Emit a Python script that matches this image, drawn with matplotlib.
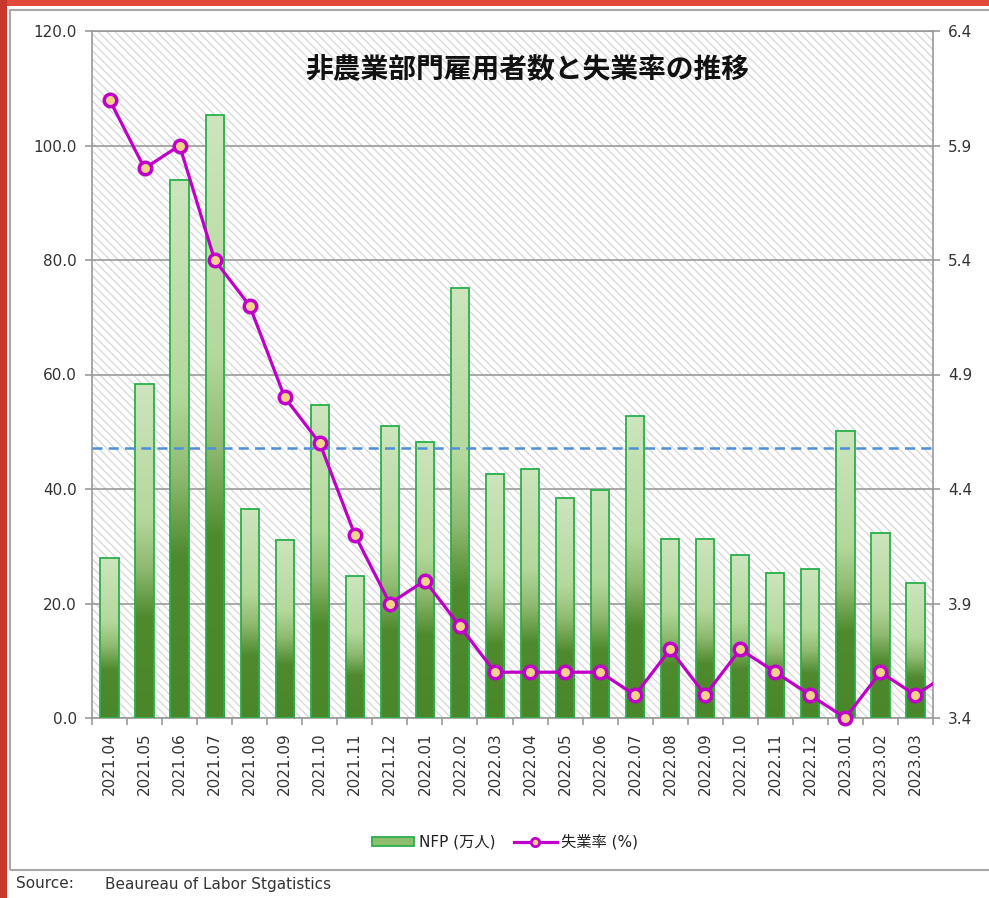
import numpy as np
import matplotlib
matplotlib.use('Agg')
import matplotlib.pyplot as plt
from matplotlib.colors import LinearSegmentedColormap
from matplotlib.patches import Rectangle, Patch
from matplotlib.lines import Line2D
from matplotlib.ticker import FormatStrFormatter

plt.rcParams['font.family'] = ['DejaVu Sans', 'Noto Sans CJK JP']
plt.rcParams['hatch.linewidth'] = 0.8

# data
months = ['2021.04', '2021.05', '2021.06', '2021.07', '2021.08', '2021.09',
          '2021.10', '2021.11', '2021.12', '2022.01', '2022.02', '2022.03',
          '2022.04', '2022.05', '2022.06', '2022.07', '2022.08', '2022.09',
          '2022.10', '2022.11', '2022.12', '2023.01', '2023.02', '2023.03']
nfp = [27.9, 58.3, 94.0, 105.3, 36.5, 31.1, 54.7, 24.8, 51.0, 48.2, 75.1, 42.7,
       43.5, 38.4, 39.8, 52.7, 31.3, 31.3, 28.4, 25.4, 26.0, 50.2, 32.4, 23.5]
# last value belongs to the next month, only the line towards it is visible
rate = [6.1, 5.8, 5.9, 5.4, 5.2, 4.8, 4.6, 4.2, 3.9, 4.0, 3.8, 3.6,
        3.6, 3.6, 3.6, 3.5, 3.7, 3.5, 3.7, 3.6, 3.5, 3.4, 3.6, 3.5, 3.6]
ref_level = 47.2

W, H = 989, 898
fig = plt.figure(figsize=(W / 100, H / 100), dpi=100, facecolor='white')

# slide background bits and chart frame
fig.add_artist(Rectangle((0, 1 - 6 / H), 1, 6 / H, transform=fig.transFigure,
                         facecolor='#e2493b', edgecolor='none'))
fig.add_artist(Rectangle((0, 0), 7 / W, 1, transform=fig.transFigure,
                         facecolor='#c8372b', edgecolor='none'))
fig.add_artist(Rectangle((10 / W, 28 / H), 1, (870 - 10) / H, transform=fig.transFigure,
                         facecolor='none', edgecolor='#a8a8a8', lw=1.5))

ax = fig.add_axes([92 / W, (H - 718) / H, (933 - 92) / W, (718 - 31) / H])
ax.set_facecolor('white')
ax.add_patch(Rectangle((0, 0), 1, 1, transform=ax.transAxes, facecolor='white',
                       edgecolor='#d2d2d2', hatch='\\\\\\\\', lw=0, zorder=0.1))

x = np.arange(len(months))
ax.set_xlim(-0.5, len(months) - 0.5)
ax.set_ylim(0, 120)

cmap = LinearSegmentedColormap.from_list('nfp', [
    (0.0, '#4a862a'), (0.3, '#4f8a2e'), (0.45, '#8fba70'),
    (0.6, '#b4d89c'), (1.0, '#cde5bd')])
grad = np.linspace(0, 1, 256).reshape(-1, 1)

bars = ax.bar(x, nfp, width=0.52, facecolor='none', edgecolor='#28b04a', lw=1.3, zorder=3)
for b in bars:
    x0, w, h = b.get_x(), b.get_width(), b.get_height()
    ax.imshow(grad, cmap=cmap, origin='lower', aspect='auto',
              extent=[x0, x0 + w, 0, h], zorder=2.5)
ax.set_xlim(-0.5, len(months) - 0.5)
ax.set_ylim(0, 120)

ax.axhline(ref_level, color='#4f8fd8', lw=1.8, ls=(0, (4, 2.5)), zorder=4)

ax.set_yticks(np.arange(0, 121, 20))
ax.yaxis.set_major_formatter(FormatStrFormatter('%.1f'))
ax.grid(axis='y', color='#9a9a9a', lw=1.2, zorder=1)
ax.set_axisbelow(True)
ax.set_xticks(x)
ax.set_xticklabels(months, rotation=90)
ax.set_xticks(np.arange(-0.5, len(months)), minor=True)
ax.tick_params(axis='x', which='major', length=0, pad=10, labelsize=11, labelcolor='#333333')
ax.tick_params(axis='x', which='minor', length=5, color='#9a9a9a', width=1.2)
ax.tick_params(axis='y', length=5, color='#9a9a9a', width=1.2, pad=6,
               labelsize=11, labelcolor='#333333')
for s in ax.spines.values():
    s.set_color('#9a9a9a')
    s.set_linewidth(1.2)

ax2 = ax.twinx()
ax2.set_ylim(3.4, 6.4)
ax2.set_yticks(np.arange(3.4, 6.41, 0.5))
ax2.yaxis.set_major_formatter(FormatStrFormatter('%.1f'))
ax2.tick_params(axis='y', length=5, color='#9a9a9a', width=1.2, pad=6,
                labelsize=11, labelcolor='#333333')
for s in ax2.spines.values():
    s.set_visible(False)
ax2.plot(np.arange(len(rate)), rate, color='#c000c8', lw=2.3, zorder=5)
ax2.plot(x, rate[:len(months)], ls='none', marker='o', ms=9, mfc='#f4d28a',
         mec='#c000c8', mew=2.5, zorder=6, clip_on=False)

ax.text(0.517, 0.943, '非農業部門雇用者数と失業率の推移', transform=ax.transAxes,
        ha='center', va='center', fontsize=20, fontweight='bold',
        family='Noto Sans CJK JP', color='#111111', zorder=10)

handles = [Patch(facecolor='#8fbd6e', edgecolor='#28b04a', lw=1.3, label='NFP (万人)'),
           Line2D([], [], color='#c000c8', lw=2.3, marker='o', ms=6, mfc='#f4d28a',
                  mec='#c000c8', mew=2, label='失業率 (%)')]
fig.legend(handles=handles, loc='center', bbox_to_anchor=(505 / W, 1 - 842 / H), ncol=2,
           frameon=False, fontsize=11, handlelength=2.8, handleheight=0.5,
           handletextpad=0.3, columnspacing=1.2, labelcolor='#222222')

fig.text(16 / W, 1 - 884 / H, 'Source:', fontsize=11, color='#333333', va='center')
fig.text(105 / W, 1 - 884 / H, 'Beaureau of Labor Stgatistics', fontsize=11,
         color='#333333', va='center')

fig.savefig('out.png', dpi=100, facecolor='white')
